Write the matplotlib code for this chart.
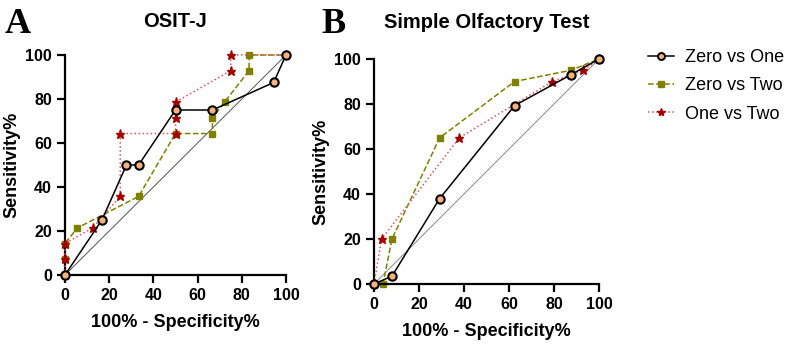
import matplotlib.pyplot as plt
from matplotlib.lines import Line2D

plt.rcParams['font.family'] = ['Liberation Sans', 'DejaVu Sans']

# Panel A: OSIT-J
a_x_zero_one = [0, 16.7, 27.8, 33.3, 50, 66.7, 94.4, 100]
a_y_zero_one = [0, 25, 50, 50, 75, 75, 87.5, 100]
a_x_zero_two = [0, 0, 0, 5.6, 33.3, 50, 66.7, 66.7, 72.2, 83.3, 83.3, 100]
a_y_zero_two = [0, 7.1, 14.3, 21.4, 35.7, 64.3, 64.3, 71.4, 78.6, 92.9, 100, 100]
a_x_one_two = [0, 0, 0, 12.5, 25, 25, 50, 50, 50, 75, 75, 100]
a_y_one_two = [0, 7.1, 14.3, 21.4, 35.7, 64.3, 64.3, 71.4, 78.6, 92.9, 100, 100]

# Panel B: Simple Olfactory Test
b_x_zero_one = [0, 8, 29.2, 62.5, 87.5, 100]
b_y_zero_one = [0, 3.5, 38, 79.3, 93, 100]
b_x_zero_two = [0, 4, 8, 29.2, 62.5, 87.5, 100]
b_y_zero_two = [0, 0, 20, 65, 90, 95, 100]
b_x_one_two = [0, 3.4, 37.9, 79.3, 93.1, 100]
b_y_one_two = [0, 20, 65, 90, 95, 100]

labels = ['Zero vs One', 'Zero vs Two', 'One vs Two']
ticks = [0, 20, 40, 60, 80, 100]

olive = '#808000'
star_red = '#A50000'
dot_red = '#E05555'
orange = '#F7B27C'

fig = plt.figure(figsize=(7.89, 3.46), dpi=100)
W, H = 789, 346
axA = fig.add_axes([65 / W, 1 - 275 / H, 221 / W, 220 / H])
axB = fig.add_axes([374 / W, 1 - 284 / H, 225 / W, 225 / H])


def draw(ax, d, diag):
    ax.plot([0, 100], [0, 100], color=diag, lw=0.7, zorder=1)
    ax.plot(d[4], d[5], ls=':', color=dot_red, lw=1.1, marker='*', ms=6.5,
            mfc=star_red, mec=star_red, clip_on=False, zorder=3)
    ax.plot(d[2], d[3], ls='--', color=olive, lw=1.1, marker='s', ms=5,
            mfc=olive, mec=olive, clip_on=False, zorder=2)
    ax.plot(d[0], d[1], ls='-', color='black', lw=1.1, marker='o', ms=6,
            mfc=orange, mec='black', mew=1.5, clip_on=False, zorder=4)
    ax.set_xlim(0, 100)
    ax.set_ylim(0, 100)
    ax.set_xticks(ticks)
    ax.set_yticks(ticks)
    for s in ['top', 'right']:
        ax.spines[s].set_visible(False)
    for s in ['left', 'bottom']:
        ax.spines[s].set_linewidth(1.6)
    ax.tick_params(width=1.6, length=6, labelsize=11.5)
    for t in ax.get_xticklabels() + ax.get_yticklabels():
        t.set_fontweight('bold')
    ax.set_xlabel('100% - Specificity%', fontsize=13, fontweight='bold', labelpad=8)
    ax.set_ylabel('Sensitivity%', fontsize=13, fontweight='bold', labelpad=3)


draw(axA, [a_x_zero_one, a_y_zero_one, a_x_zero_two, a_y_zero_two, a_x_one_two, a_y_one_two], '#555555')
draw(axB, [b_x_zero_one, b_y_zero_one, b_x_zero_two, b_y_zero_two, b_x_one_two, b_y_one_two], '#888888')

axA.set_title('OSIT-J', fontsize=14.5, fontweight='bold', pad=20)
axB.set_title('Simple Olfactory Test', fontsize=14.5, fontweight='bold', pad=22)
fig.text(5 / W, 1 - 33 / H, 'A', family='Liberation Serif', fontsize=26, fontweight='bold')
fig.text(321 / W, 1 - 33 / H, 'B', family='Liberation Serif', fontsize=26, fontweight='bold')

handles = [
    Line2D([], [], ls='-', color='black', lw=1.1, marker='o', ms=5, mfc=orange, mec='black', mew=1.4),
    Line2D([], [], ls='--', color=olive, lw=1.1, marker='s', ms=4.5, mfc=olive, mec=olive),
    Line2D([], [], ls=':', color=dot_red, lw=1.1, marker='*', ms=6, mfc=star_red, mec=star_red),
]
fig.legend(handles, labels, loc='upper left', bbox_to_anchor=(641 / W, 1 - 42 / H),
           frameon=False, fontsize=13, handlelength=1.4, handletextpad=0.65,
           labelspacing=0.62, borderaxespad=0)

fig.savefig('out.png', dpi=100)
